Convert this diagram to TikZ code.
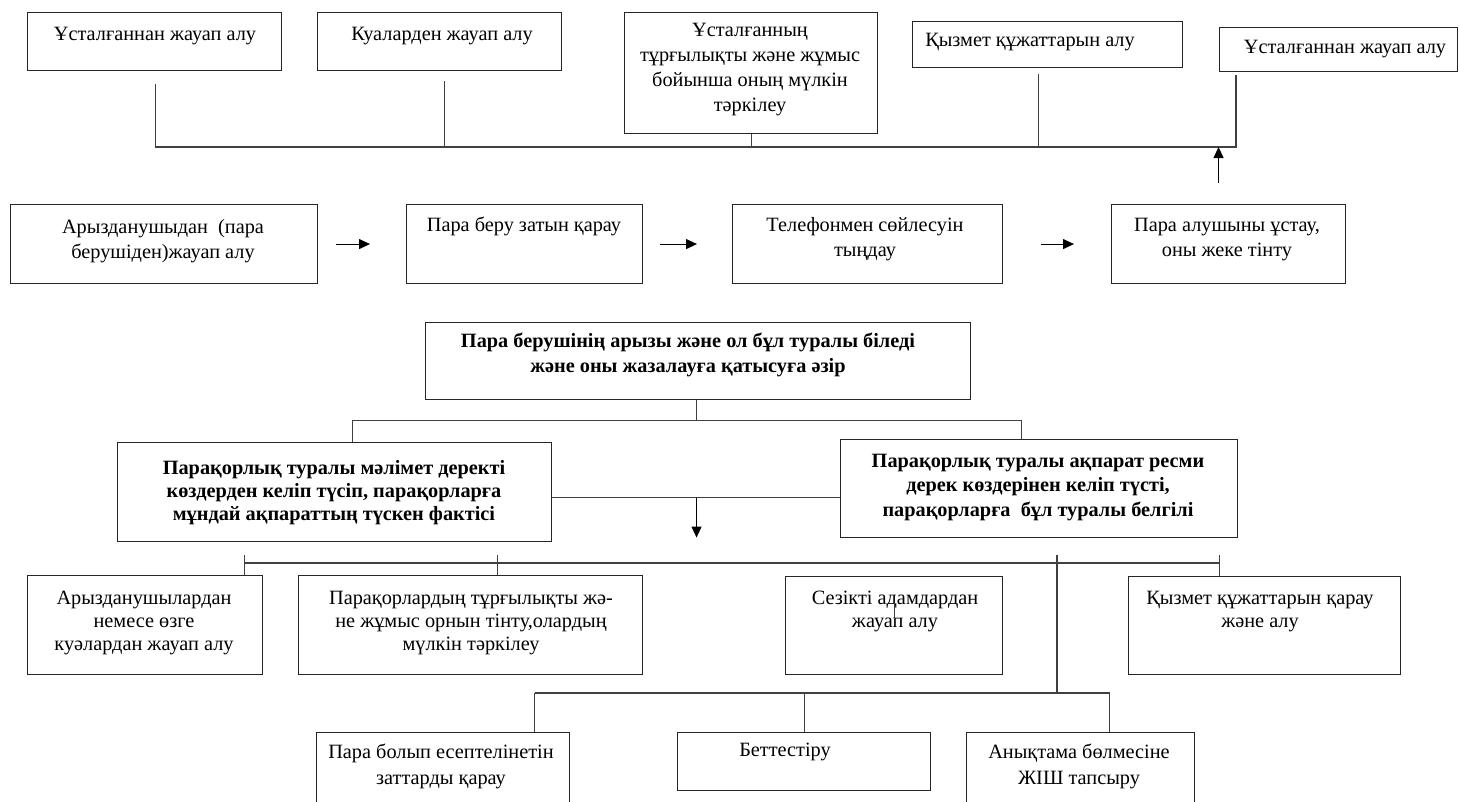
\documentclass[tikz,border=0pt]{standalone}
\usepackage{fontspec}
\setmainfont{Liberation Serif}
\usetikzlibrary{arrows.meta,calc}
\begin{document}
\begin{tikzpicture}[x=1pt,y=-1pt,
  box/.style={draw=black!85, line width=1.1pt, inner sep=0pt, anchor=north west},
  txt/.style={font=\fontsize{20.3}{25}\selectfont, align=center, inner sep=0pt},
  btxt/.style={font=\fontsize{20.3}{25}\selectfont\bfseries, align=center, inner sep=0pt},
  ln/.style={draw=black!75, line width=1.1pt},
  arr/.style={draw=black, line width=1.1pt, -{Triangle[length=11pt,width=10pt]}}]
\useasboundingbox (0,0) rectangle (1460,801);
\begin{scope}
\clip (0,0) rectangle (1460,801);
% ---------- top row ----------
\node[box, minimum width=254, minimum height=58] (A) at (27,12) {};
\node[box, minimum width=244, minimum height=58] (B) at (317,12) {};
\node[box, minimum width=253, minimum height=121] (C) at (624,12) {};
\node[box, minimum width=270, minimum height=46] (D) at (912,21) {};
\node[box, minimum width=238, minimum height=44] (E) at (1219,27) {};
\node[txt] (tA) at (155,36) {Ұсталғаннан жауап алу};
\node[txt] (tB) at (442,36) {Куаларден жауап алу};
\node[txt] (tC) at (750,69.5) {Ұсталғанның\\тұрғылықты және жұмыс\\бойынша оның мүлкін\\тәркілеу};
\node[txt] (tD) at (1030,42) {Қызмет құжаттарын алу};
\node[txt] (tE) at (1345,49) {Ұсталғаннан жауап алу};
% ---------- middle row ----------
\node[box, minimum width=307, minimum height=79] (F) at (10,204) {};
\node[box, minimum width=236, minimum height=79] (G) at (406,204) {};
\node[box, minimum width=270, minimum height=79] (H) at (732,204) {};
\node[box, minimum width=234, minimum height=79] (I) at (1111,204) {};
\node[txt] (tF) at (163,241.5) {Арызданушыдан\ \ (пара\\берушіден)жауап алу};
\node[txt] (tG) at (524,226) {Пара беру затын қарау};
\node[txt] (tH) at (865,239.5) {Телефонмен сөйлесуін\\тыңдау};
\node[txt] (tI) at (1227,239.5) {Пара алушыны ұстау,\\оны жеке тінту};
% ---------- bold boxes ----------
\node[box, minimum width=545, minimum height=77] (J) at (425,322) {};
\node[btxt] (tJ) at (688,355) {Пара берушінің арызы және ол бұл туралы біледі\\және оны жазалауға қатысуға әзір};
\node[box, minimum width=434, minimum height=99] (K) at (117,442) {};
\node[btxt, font=\fontsize{20.3}{23}\selectfont\bfseries] (tK) at (334,493) {Парақорлық туралы мәлімет деректі\\көздерден келіп түсіп, парақорларға\\мұндай ақпараттың түскен фактісі};
\node[box, minimum width=397, minimum height=98] (L) at (840,439) {};
\node[btxt, font=\fontsize{20.3}{24.5}\selectfont\bfseries] (tL) at (1038,487.5) {Парақорлық туралы ақпарат ресми\\дерек көздерінен келіп түсті,\\парақорларға\ \ бұл туралы белгілі};
% ---------- lower row ----------
\node[box, minimum width=235, minimum height=99] (M) at (27,575) {};
\node[box, minimum width=344, minimum height=99] (N) at (298,575) {};
\node[box, minimum width=217, minimum height=98] (O) at (785,576) {};
\node[box, minimum width=272, minimum height=98] (Q) at (1128,576) {};
\node[txt, font=\fontsize{20.3}{23}\selectfont] (tM) at (144,623) {Арызданушылардан\\немесе өзге\\куәлардан жауап алу};
\node[txt, font=\fontsize{20.3}{23}\selectfont] (tN) at (471,623) {Парақорлардың тұрғылықты жә-\\не жұмыс орнын тінту,олардың\\мүлкін тәркілеу};
\node[txt, font=\fontsize{20.3}{23}\selectfont] (tO) at (895,611.5) {Сезікті адамдардан\\жауап алу};
\node[txt, font=\fontsize{20.3}{23}\selectfont] (tQ) at (1260,611.5) {Қызмет құжаттарын қарау\\және алу};
% ---------- bottom row ----------
\node[box, minimum width=253, minimum height=110] (R) at (316,732) {};
\node[box, minimum width=253, minimum height=58] (S) at (677,732) {};
\node[box, minimum width=228, minimum height=110] (T) at (966,732) {};
\node[txt, font=\fontsize{20.3}{26}\selectfont] (tR) at (441,766.5) {Пара болып есептелінетін\\заттарды қарау};
\node[txt] (tS) at (785,752) {Беттестіру};
\node[txt, font=\fontsize{20.3}{26}\selectfont] (tT) at (1079,766.5) {Анықтама бөлмесіне\\ЖІШ тапсыру};
% ---------- connectors: top ----------
\coordinate (bar) at (0,147);
\coordinate (sA) at ([xshift=1pt,yshift=-13pt]A.south);
\coordinate (sB) at ([xshift=5pt,yshift=-10pt]B.south);
\coordinate (sD) at ([xshift=-9pt,yshift=-6pt]D.south);
\coordinate (sE) at ([xshift=17pt,yshift=-3pt]E.south west);
\draw[ln] (sA) -- (sA |- bar) -- (sE |- bar) -- (sE);
\draw[ln] (sB) -- (sB |- bar);
\draw[ln] (C.south) -- (C.south |- bar);
\draw[ln] (sD) -- (sD |- bar);
\coordinate (up) at ([xshift=-10pt,yshift=21pt]I.north);
\draw[arr] (up) -- (up |- bar);
% ---------- connectors: middle ----------
\draw[arr] ([xshift=18pt]F.east) -- ([xshift=-36pt]G.west);
\draw[arr] ([xshift=17pt]G.east) -- ([xshift=-35pt]H.west);
\draw[arr] ([xshift=38pt]H.east) -- ([xshift=-37pt]I.west);
% ---------- connectors: J, K, L ----------
\coordinate (jb) at ([xshift=-1.5pt,yshift=-20pt]J.south);
\coordinate (kt) at ([xshift=18pt]K.north);
\coordinate (lt) at ([xshift=-17.5pt]L.north);
\draw[ln] ([xshift=-1.5pt]J.south) -- (jb);
\draw[ln] (kt) -- (kt |- jb) -- (lt |- jb) -- (lt);
\coordinate (ke) at ([yshift=-5.5pt]K.east);
\draw[ln] (ke) -- (ke -| L.west);
\coordinate (am) at (jb |- ke);
\draw[arr] (am) -- ++(0,40);
% ---------- connectors: lower ----------
\coordinate (lb) at (0,563);
\coordinate (mt) at ([xshift=99.5pt]M.north);
\coordinate (nt) at ([xshift=27pt]N.north);
\coordinate (qt) at ([xshift=-45pt]Q.north);
\coordinate (ct) at (1057,555);
\coordinate (cb) at (1057,693);
\draw[ln] (mt |- lb) -- (qt |- lb);
\draw[ln] ([yshift=8pt]mt |- lb) -- (mt);
\draw[ln] ([yshift=8pt]nt |- lb) -- (nt);
\draw[ln] ([yshift=8pt]qt |- lb) -- (qt);
\draw[ln] (ct) -- (cb);
\draw[ln] ([yshift=-27pt]O.north) -- ++(0,16);
% ---------- connectors: bottom ----------
\coordinate (rt) at ([xshift=91.5pt]R.north);
\coordinate (tt) at ([xshift=29pt]T.north);
\draw[ln] (rt |- cb) -- (tt |- cb);
\draw[ln] (rt |- cb) -- (rt);
\draw[ln] (S.north |- cb) -- (S.north);
\draw[ln] (tt |- cb) -- (tt);
\end{scope}
\end{tikzpicture}
\end{document}
